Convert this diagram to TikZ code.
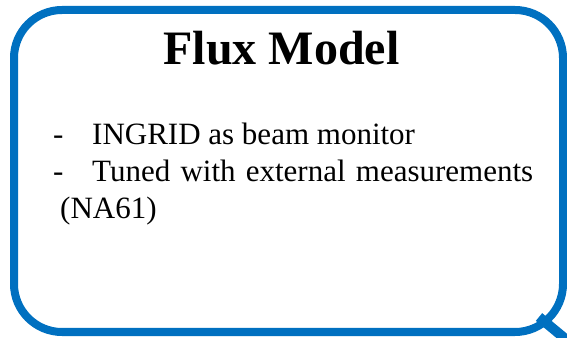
\documentclass[tikz,border=0pt]{standalone}
\usepackage{fontspec}
\setmainfont{Liberation Serif}
\usetikzlibrary{positioning}
\definecolor{frameblue}{RGB}{0,112,192}

\begin{document}
\begin{tikzpicture}[x=1pt,y=1pt,
    frame/.style={draw=frameblue,line width=8pt,rounded corners=48pt,inner sep=0pt},
    item/.style={anchor=base west,inner sep=0pt,font=\fontsize{31}{37}\selectfont}]
    \useasboundingbox (0,0) rectangle (567,337);
    \clip (0,0) rectangle (567,337);
    \node[frame,minimum width=549pt,minimum height=322pt] (box) at (288.5,166) {};
    % handle at the lower right corner
    \coordinate (grip) at (539,20);
    \coordinate (tail) at (580,-14);
    \draw[frameblue,line width=10pt] (grip) -- (tail);
    \node[anchor=base,inner sep=0pt,font=\fontsize{48}{56}\selectfont\bfseries] (title) at (281.5,272) {Flux Model};
    \node[item] (dash1) at (53,192) {-};
    \node[item] (ingrid) at (92,192) {INGRID as beam monitor};
    \node[item] (dash2) at (53,155) {-};
    \node[item] (tuned) at (92,155) {\makebox[441pt][s]{Tuned with external measurements}};
    \node[item] (na) at (60,118) {(NA61)};
\end{tikzpicture}
\end{document}
